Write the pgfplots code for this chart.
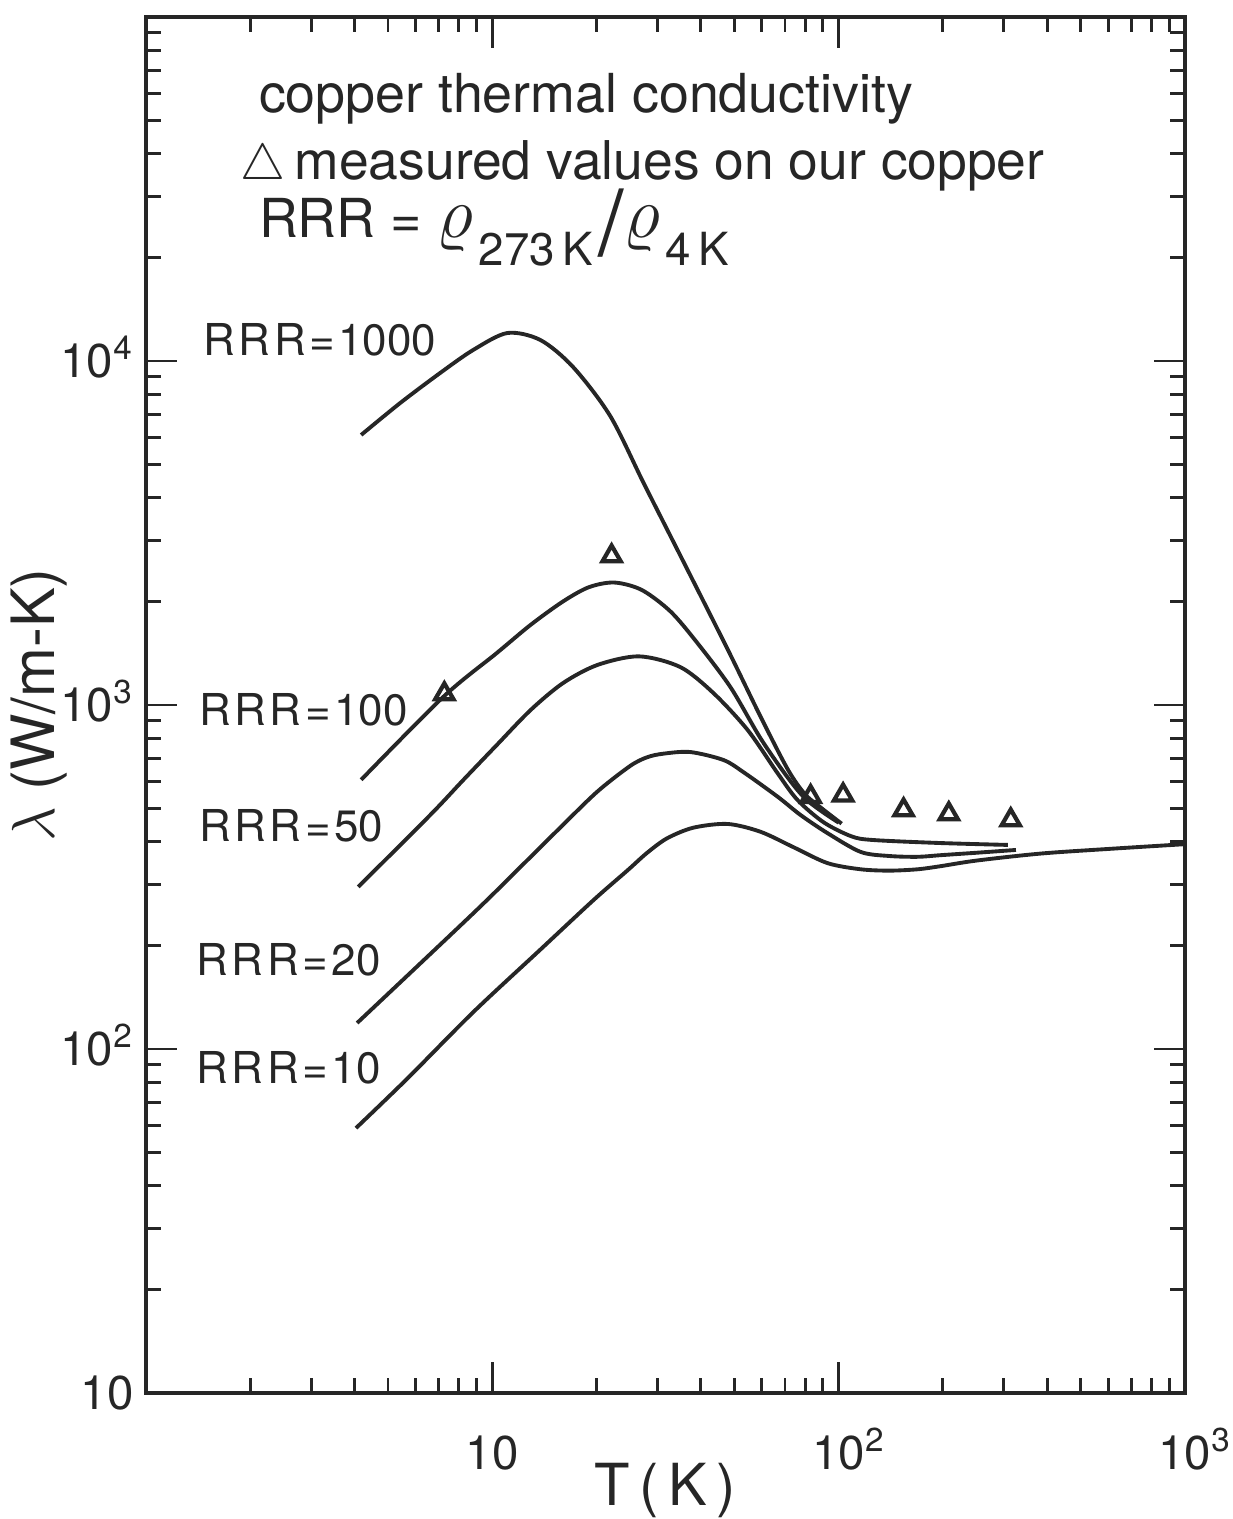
\documentclass[border=0pt]{standalone}
\usepackage{pgfplots}
\pgfplotsset{compat=1.18}
\usepackage{fontspec}
\setmainfont{TeX Gyre Heros}
\begin{document}
\begin{tikzpicture}
\begin{axis}[
  name=ax,
  scale only axis,
  width=10.39cm, height=13.76cm,
  xmode=log, ymode=log,
  xmin=1, xmax=1000, ymin=10, ymax=100000,
  axis line style={line width=1pt, black!85},
  every tick/.style={line width=0.8pt, black!85},
  tick align=inside,
  tick pos=both,
  xticklabel pos=lower, yticklabel pos=left,
  major tick length=0.31cm, minor tick length=0.15cm,
  xtick={10,100,1000},
  xticklabels={10, 10\rlap{\textsuperscript{2}}, 10\rlap{\textsuperscript{3}}},
  minor xtick={2,3,4,5,6,7,8,9,20,30,40,50,60,70,80,90,200,300,400,500,600,700,800,900},
  ytick={10,100,1000,10000},
  yticklabels={10, 10\textsuperscript{2}, 10\textsuperscript{3}, 10\textsuperscript{4}},
  minor ytick={20,30,40,50,60,70,80,90,200,300,400,500,600,700,800,900,2000,3000,4000,5000,6000,7000,8000,9000,20000,30000,40000,50000,60000,70000,80000,90000},
  xticklabel style={font=\fontsize{13.5}{13.5}\selectfont, text=black!85, anchor=base, yshift=-0.77cm},
  yticklabel style={font=\fontsize{13.5}{13.5}\selectfont, text=black!85, anchor=base east, yshift=-4.8pt, xshift=0cm},
  xlabel={T\,(\,K\,)},
  ylabel={$\lambda$ (W/m-K)},
  xlabel style={at={(axis description cs:0.5,-0.082)}, anchor=base, font=\fontsize{16.5}{16.5}\selectfont, text=black!85},
  ylabel style={at={(axis description cs:-0.103,0.5)}, anchor=center, font=\fontsize{17}{17}\selectfont, text=black!85},
]
% RRR = 1000
\addplot[line width=1.1pt, black!85, smooth] coordinates {
(4.18,6095) (5.42,7550) (7.07,9230) (8.81,10770) (11.05,12060) (13.76,11510)
(17.1,9610) (21.9,6920) (27.4,4400) (34.9,2720) (47.8,1452)
(59.5,925) (71.3,650) (80,550) (90,498) (102,452)};
% RRR = 100
\addplot[line width=1.1pt, black!85, smooth] coordinates {
(4.18,606) (7.22,1056) (10.3,1416) (12.9,1710) (16.0,2000) (19.0,2200)
(22.5,2270) (27.0,2160) (32.7,1870) (39.1,1514) (48.7,1127) (59.5,800)
(71.3,615) (80,535) (90,488) (100,455)};
% RRR = 50
\addplot[line width=1.1pt, black!85, smooth] coordinates {
(4.1,296) (6.62,479) (8.24,605) (10.3,765) (12.9,967) (16.0,1158) (20.1,1307)
(26.5,1385) (34.9,1289) (43.5,1083) (54.6,846) (66.6,634) (76,530)
(90.5,456) (109,415) (126,405) (197,397) (308,392)};
% RRR = 20
\addplot[line width=1.1pt, black!85, smooth] coordinates {
(4.07,119) (8.81,248) (12.05,338) (15.7,440) (20.1,560) (25.0,665) (28.0,705)
(31.2,722) (37.3,730) (46.5,692) (53.1,638) (66.7,541) (77.6,479) (92.9,424)
(115.8,374) (140,364) (169,362) (197,366) (250,372) (325,379)};
% RRR = 10
\addplot[line width=1.1pt, black!85, smooth] coordinates {
(4.04,58.9) (5.68,82) (8.81,128) (13.8,195) (19.6,271) (24.6,331) (28,372)
(32,410) (38.1,440) (47.8,451) (59.5,428) (74.1,386) (92.9,347) (115.8,333)
(140,330) (169,333) (197,340) (250,353) (384,370) (611,382) (1000,394)};
% measured values
\addplot[only marks, mark=triangle, mark size=3pt, mark options={line width=1.2pt, black!85}] coordinates {
(7.27,1077) (22.1,2710) (83,541) (103,547) (154,495) (208,482) (314,463)};

\node[anchor=base west, inner sep=0pt, font=\fontsize{15.3}{15.3}\selectfont, text=black!85] at (axis cs:2.11,52900) {copper thermal conductivity};
\node[anchor=base west, inner sep=0pt, font=\fontsize{15.2}{15.2}\selectfont, text=black!85] at (axis cs:1.87,33600) {$\triangle$\,measured values on our copper};
\node[anchor=base west, inner sep=0pt, font=\fontsize{15.3}{15.3}\selectfont, text=black!85] at (axis cs:2.11,22800) {RRR = \smash{\fontsize{22}{22}\selectfont$\varrho$}\kern1.5pt\raisebox{-8pt}{\fontsize{13}{13}\selectfont 273\,K}\kern1.5pt\smash{\raisebox{-5pt}{\fontsize{26}{26}\selectfont/}}\smash{\fontsize{22}{22}\selectfont$\varrho$}\kern1.5pt\raisebox{-8pt}{\fontsize{13}{13}\selectfont 4\,K}};

\node[anchor=west, font=\fontsize{12.5}{12.5}\selectfont, text=black!85, inner sep=0pt] at (axis cs:1.46,11500) {R\kern1pt R\kern1pt R\kern1pt=\kern1pt 1000};
\node[anchor=west, font=\fontsize{12.5}{12.5}\selectfont, text=black!85, inner sep=0pt] at (axis cs:1.42,966) {R\kern1pt R\kern1pt R\kern1pt=\kern1pt 100};
\node[anchor=west, font=\fontsize{12.5}{12.5}\selectfont, text=black!85, inner sep=0pt] at (axis cs:1.42,445) {R\kern1pt R\kern1pt R\kern1pt=\kern1pt 50};
\node[anchor=west, font=\fontsize{12.5}{12.5}\selectfont, text=black!85, inner sep=0pt] at (axis cs:1.395,181.6) {R\kern1pt R\kern1pt R\kern1pt=\kern1pt 20};
\node[anchor=west, font=\fontsize{12.5}{12.5}\selectfont, text=black!85, inner sep=0pt] at (axis cs:1.395,88.1) {R\kern1pt R\kern1pt R\kern1pt=\kern1pt 10};
\end{axis}
\pgfresetboundingbox
\path ([shift={(-1.46cm,-1.26cm)}]ax.south west) rectangle ([shift={(0.48cm,0.17cm)}]ax.north east);
\end{tikzpicture}
\end{document}
